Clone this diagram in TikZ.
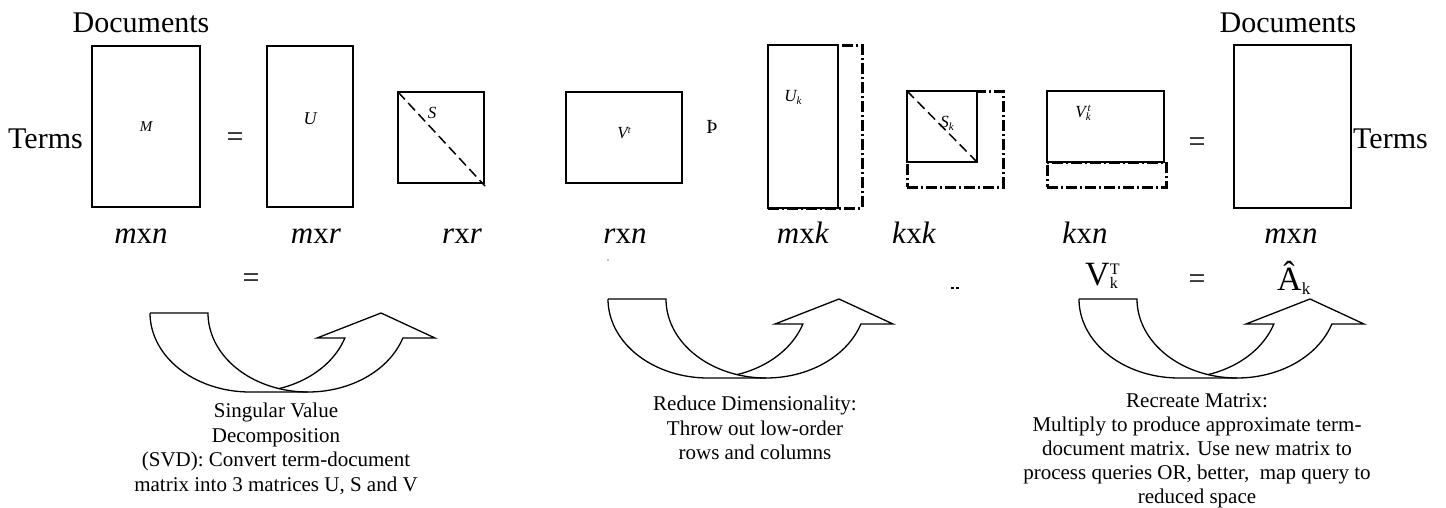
\documentclass[tikz,border=0pt]{standalone}
\usepackage{fontspec}
\setmainfont{Liberation Serif}
\newcommand{\fsz}[1]{\fontsize{#1}{#1}\selectfont}
\begin{document}
\begin{tikzpicture}[x=1pt,y=-1pt,
  mat/.style={draw, line width=2pt, fill=white, inner sep=0pt, outer sep=0pt},
  trunc/.style={draw, line width=3pt, dash pattern=on 11pt off 3pt on 2pt off 3pt, inner sep=0pt},
  diag/.style={line width=1.5pt, dash pattern=on 10pt off 5pt},
  heading/.style={font=\fsz{30}, inner sep=0pt},
  sym/.style={font=\fsz{17}\itshape, inner sep=0pt},
  dim/.style={font=\fsz{31}, anchor=base, inner sep=0pt},
  eqs/.style={font=\fsz{30}, inner sep=0pt},
  note/.style={font=\fontsize{21}{24.5}\selectfont, align=center, anchor=north, inner sep=0pt},
  arrowline/.style={line width=1.3pt, line join=miter},
  curvedup/.pic={
    % inner edge of the tail band
    \draw[arrowline] (0,0) -- (58,0)
      -- plot[domain=180:90, samples=40] ({158+100*cos(\x)},{79*sin(\x)});
    % outer outline with the head
    \draw[arrowline] plot[domain=180:90, samples=40] ({100+100*cos(\x)},{79*sin(\x)})
      -- plot[domain=90:18.4, samples=40] ({158+100*cos(\x)},{79*sin(\x)})
      -- (285,25) -- (231,0) -- (167,25)
      -- plot[domain=18.4:73.1, samples=30] ({100+100*cos(\x)},{79*sin(\x)});
  },
]
\useasboundingbox (0,0) rectangle (1446,507);

% ---- full decomposition M = U S V^t
\node[mat, minimum width=108pt, minimum height=161pt] (M) at (146,126.5) {};
\node[mat, minimum width=86pt, minimum height=161pt] (U) at (310,126.5) {};
\node[mat, minimum width=86pt, minimum height=91pt] (S) at (441,137.5) {};
\node[mat, minimum width=116pt, minimum height=91pt] (Vt) at (624,137.5) {};
\draw[diag] (S.north west) -- ([shift={(1,3)}]S.south east);

\node[heading, anchor=base] (docL) at (141,32) {Documents};
\node[heading, anchor=base west] (termL) at (8,148) {Terms};
\node[sym, font=\fsz{15}\itshape] (lM) at (146,127) {M};
\node[sym, font=\fsz{18}\itshape] (lU) at (310,119) {U};
\node[sym] (lS) at (432,113) {S};
\node[sym] (lV) at (624,133) {V\raisebox{5pt}{\fsz{10}\itshape t}};
\node[eqs] (eq1) at (235,140) {=};
\node[inner sep=0pt, font=\fsz{20}] (thorn) at (712,127) {Þ};

% ---- truncated matrices
\node[trunc, minimum width=94pt, minimum height=163pt] (Ukx) at (815,126.5) {};
\node[trunc, minimum width=96pt, minimum height=96pt] (Skx) at (955,139) {};
\node[trunc, minimum width=119pt, minimum height=25pt] (Vkx) at (1106.5,174.5) {};
\node[mat, minimum width=70pt, minimum height=163pt] (Uk) at (803,126.5) {};
\node[mat, minimum width=70pt, minimum height=71pt] (Sk) at (942,126.5) {};
\node[mat, minimum width=117pt, minimum height=71pt] (Vk) at (1105.5,126.5) {};
\draw[diag] (Sk.north west) -- (Sk.south east);
\node[sym] (lUk) at (793,97) {U\raisebox{-3pt}{\fsz{11}\itshape k}};
\node[sym] (lSk) at (947,123) {S\raisebox{-3pt}{\fsz{11}\itshape k}};
\node[sym] (lVk) at (1083,113) {V\rlap{\raisebox{-3pt}{\fsz{11}\itshape k}}\raisebox{6pt}{\fsz{11}\itshape\,t}};
\node[eqs] (eq2) at (1197,145) {=};

% ---- result
\node[mat, minimum width=117pt, minimum height=163pt] (A) at (1292.5,126.5) {};
\node[heading, anchor=base] (docR) at (1288,32) {Documents};
\node[heading, anchor=base west] (termR) at (1353,148) {Terms};

% ---- dimensions
\node[dim] (d1) at (141,243) {\textit{m}x\textit{n}};
\node[dim] (d2) at (316,243) {\textit{m}x\textit{r}};
\node[dim] (d3) at (462,243) {\textit{r}x\textit{r}};
\node[dim] (d4) at (625,243) {\textit{r}x\textit{n}};
\node[dim] (d5) at (803,243) {\textit{m}x\textit{k}};
\node[dim] (d6) at (914,243) {\textit{k}x\textit{k}};
\node[dim] (d7) at (1085,243) {\textit{k}x\textit{n}};
\node[dim] (d8) at (1291,243) {\textit{m}x\textit{n}};

% ---- second row of symbols
\node[eqs] (eq3) at (251,281) {=};
\fill (608,260) circle (0.7);
\fill (951,287) rectangle (954,289);
\fill (956,287) rectangle (959,289);
\node[inner sep=0pt, anchor=base west, font=\fsz{34}] (VTk) at (1085,285)
  {V\rlap{\raisebox{11pt}{\fsz{16}T}}\raisebox{-3pt}{\fsz{16}k}};
\node[eqs] (eq4) at (1197,282) {=};
\node[inner sep=0pt, anchor=base west, font=\fsz{34}] (Ahat) at (1277,290)
  {Â\raisebox{-4pt}{\fsz{17}k}};

% ---- curved arrows and captions
\pic at (150,313) {curvedup};
\pic at (608,299) {curvedup};
\pic at (1079,299) {curvedup};

\node[note] (t1) at (276,403) {Singular Value\\Decomposition\\(SVD): Convert term-document\\matrix into 3 matrices U, S and V};
\node[note] (t2) at (755,396) {Reduce Dimensionality:\\Throw out low-order\\rows and columns};
\node[note, font=\fontsize{21}{24}\selectfont] (t3) at (1197,393) {Recreate Matrix:\\Multiply to produce approximate term-\\document matrix. Use new matrix to\\process queries OR, better,~ map query to\\reduced space};
\end{tikzpicture}
\end{document}
